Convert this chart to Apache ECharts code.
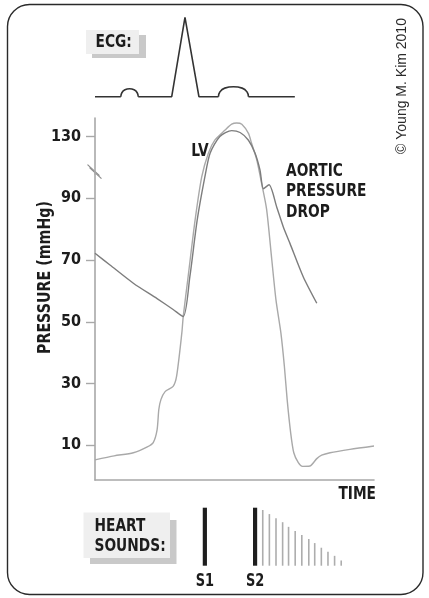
<!DOCTYPE html>
<html>
<head>
<meta charset="utf-8">
<script src="https://cdn.jsdelivr.net/npm/echarts@6/dist/echarts.min.js"></script>
<style>
html,body{margin:0;padding:0;background:#fff;}
#main{width:429px;height:598px;}
</style>
</head>
<body>
<div id="main"></div>
<script>
// ---- DATA ----
// Time axis in milliseconds across one cardiac cycle
const timeRange = [0, 800];

// ECG trace (ms, mV): baseline + QRS (null = gap where a wave is drawn)
const ecgBaseTime    = [0, 74, 99, 124, 220, 258, 298, 354, 397, 440, 573];
const ecgBaseVoltage = [0, 0, null, 0, 0, 1.0, 0, 0, null, 0, 0];
// P wave
const pWaveTime    = [74, 77, 86, 99, 112, 121, 124];
const pWaveVoltage = [0, 0.05, 0.087, 0.1, 0.087, 0.05, 0];
// T wave
const tWaveTime    = [354, 358, 372, 397, 422, 436, 440];
const tWaveVoltage = [0, 0.06, 0.108, 0.125, 0.108, 0.06, 0];

// Left ventricular pressure (ms, mmHg)
const lvTime     = [0, 55, 110, 150, 167, 178, 183, 189, 201, 224, 234, 249, 253, 267, 287, 306, 325, 344, 373, 392, 406, 421, 440, 449, 464, 478, 492, 507, 519, 533, 543, 551, 561, 570, 583, 595, 616, 636, 650, 674, 731, 800];
const lvPressure = [5.3, 6.6, 7.6, 9.5, 10.9, 15, 21.6, 24.8, 27.4, 29.1, 32.4, 46.4, 51.7, 64.6, 82.9, 96.9, 124.6, 128.9, 132.1, 134, 134.4, 134, 131, 127.8, 122.4, 94.7, 86.5, 70, 57, 46.4, 35.6, 24.8, 14.1, 7.6, 4.4, 3.2, 3.3, 5.7, 6.8, 7.6, 8.7, 9.8];

// Aortic pressure (ms, mmHg)
const aoTime     = [0, 43, 110, 178, 224, 253, 272, 293, 315, 330, 358, 392, 416, 440, 459, 473, 483, 499, 521, 540, 559, 597, 636];
const aoPressure = [72.2, 68.4, 62.5, 57.5, 54, 51.7, 64.6, 82.9, 96.9, 124.6, 130, 131.9, 131.3, 128.8, 124.6, 119.2, 93.1, 94.4, 87.2, 80.7, 75.4, 64.6, 56];

// Y axis
const yTickValues = [10, 30, 50, 70, 90, 130];
const yBreak = [98, 118];
const yRange = [-1, 136];

// Heart sounds (ms, relative amplitude)
const mainSoundTime      = [315, 459];
const mainSoundAmplitude = [100, 100];
const mainSoundLabels    = ['S1', 'S2'];
const splitTime      = [481, 500, 519, 538, 555, 574, 593, 613, 630, 649, 668, 687, 706];
const splitAmplitude = [96, 89, 82, 75, 67, 60, 53, 46, 39, 31, 24, 17, 9];

// Texts
const ecgTitle = 'ECG:';
const soundTitle = 'HEART\nSOUNDS:';
const yTitle = 'PRESSURE (mmHg)';
const xTitle = 'TIME';
const lvLabel = 'LV';
const aoLabel = 'AORTIC\nPRESSURE\nDROP';
const copyright = '\u00A9 Young M. Kim 2010';

// ---- CHART ----
const FONT = '"Liberation Sans Narrow", "Arial Narrow", "DejaVu Sans Condensed", sans-serif';
const FONT_REG = '"Liberation Sans", Arial, sans-serif';
const TXT = '#1c1c1c';
const AXIS = '#a8a8a8';
const SX = 0.85; // horizontal condensing of bold labels

const zip = (a, b) => a.map((v, i) => [v, b[i]]);

const chart = echarts.init(document.getElementById('main'), null, {renderer: 'canvas'});

const hiddenX = (gi) => ({gridIndex: gi, type: 'value', min: timeRange[0], max: timeRange[1], show: false});
const ecgLine = (name, t, v, smooth) => ({
  name: name, type: 'line', xAxisIndex: 0, yAxisIndex: 0,
  data: zip(t, v), showSymbol: false, symbol: 'none', smooth: smooth, connectNulls: false,
  lineStyle: {color: '#333', width: 1.6}, clip: false
});

const option = {
  animation: false,
  grid: [
    {left: 95, right: 55, top: 17.3, height: 79.4},
    {left: 95, right: 55, top: 118, height: 361.3},
    {left: 95, right: 55, top: 507.7, height: 58}
  ],
  xAxis: [
    hiddenX(0),
    {
      gridIndex: 1, type: 'value', min: timeRange[0], max: timeRange[1],
      axisLine: {show: true, onZero: false, lineStyle: {color: AXIS, width: 1.6}},
      axisTick: {show: false}, axisLabel: {show: false}, splitLine: {show: false}
    },
    hiddenX(2)
  ],
  yAxis: [
    {gridIndex: 0, type: 'value', min: 0, max: 1, show: false},
    {
      gridIndex: 1, type: 'value', min: yRange[0], max: yRange[1],
      breaks: [{start: yBreak[0], end: yBreak[1], gap: 0}],
      breakArea: {show: false},
      axisLine: {show: true, onZero: false, lineStyle: {color: AXIS, width: 1.6}},
      axisTick: {show: true, length: 9, customValues: yTickValues, lineStyle: {color: AXIS, width: 1.4}},
      axisLabel: {customValues: yTickValues, margin: 14, fontSize: 16, fontWeight: 'bold', fontFamily: FONT, color: TXT},
      splitLine: {show: false}
    },
    {gridIndex: 2, type: 'value', min: 0, max: 100, show: false}
  ],
  series: [
    ecgLine('ECG', ecgBaseTime, ecgBaseVoltage, false),
    ecgLine('P wave', pWaveTime, pWaveVoltage, 0.5),
    ecgLine('T wave', tWaveTime, tWaveVoltage, 0.5),
    {
      name: 'LV', type: 'line', xAxisIndex: 1, yAxisIndex: 1,
      data: zip(lvTime, lvPressure), showSymbol: false, symbol: 'none', smooth: 0.25,
      lineStyle: {color: '#a9a9a9', width: 1.4}, clip: false
    },
    {
      name: 'Aortic', type: 'line', xAxisIndex: 1, yAxisIndex: 1,
      data: zip(aoTime, aoPressure), showSymbol: false, symbol: 'none', smooth: 0.25,
      lineStyle: {color: '#7d7d7d', width: 1.4}, clip: false
    },
    {
      name: 'Split', type: 'custom', xAxisIndex: 2, yAxisIndex: 2, clip: false,
      data: zip(splitTime, splitAmplitude),
      renderItem: function (params, api) {
        const top = api.coord([api.value(0), api.value(1)]);
        const base = api.coord([api.value(0), 0]);
        const w = 1.6;
        return {type: 'rect', shape: {x: top[0] - w / 2, y: top[1], width: w, height: base[1] - top[1]}, style: {fill: '#adadad'}};
      }
    },
    {
      name: 'Sounds', type: 'custom', xAxisIndex: 2, yAxisIndex: 2, clip: false,
      data: zip(mainSoundTime, mainSoundAmplitude),
      renderItem: function (params, api) {
        const top = api.coord([api.value(0), api.value(1)]);
        const base = api.coord([api.value(0), 0]);
        const w = 4.2;
        return {
          type: 'group',
          children: [
            {type: 'rect', shape: {x: top[0] - w / 2, y: top[1], width: w, height: base[1] - top[1]}, style: {fill: '#1e1e1e'}},
            {type: 'text', x: base[0], y: base[1] + 15.5, scaleX: 0.8, style: {text: mainSoundLabels[params.dataIndex], align: 'center', verticalAlign: 'middle', font: 'bold 18px ' + FONT, fill: TXT}}
          ]
        };
      }
    }
  ]
};

chart.setOption(option);

// ---- Decorations ----
const axisX = chart.convertToPixel({xAxisIndex: 1}, timeRange[0]);
const breakY = chart.convertToPixel({yAxisIndex: 1}, yBreak[0]) - 2;

const boldText = (text, x, y, align, extra) => Object.assign({
  type: 'text', x: x, y: y, scaleX: SX,
  style: {text: text, align: align, verticalAlign: 'middle', font: 'bold 18px ' + FONT, fill: TXT}
}, extra || {});

chart.setOption({
  graphic: [
    // border
    {type: 'rect', z: 0, shape: {x: 7.5, y: 4.5, width: 415.5, height: 590, r: 22}, style: {fill: 'none', stroke: '#2a2a2a', lineWidth: 1.4}},
    // ECG box
    {type: 'rect', shape: {x: 92, y: 35, width: 54, height: 23}, style: {fill: '#c9c9c9'}},
    {type: 'rect', shape: {x: 86, y: 30, width: 53, height: 24}, style: {fill: '#efefef'}},
    boldText(ecgTitle, 95.5, 42.5, 'left'),
    // Heart sounds box
    {type: 'rect', shape: {x: 90, y: 520, width: 86.5, height: 44}, style: {fill: '#c9c9c9'}},
    {type: 'rect', shape: {x: 83.5, y: 512.5, width: 86.5, height: 45.5}, style: {fill: '#efefef'}},
    {type: 'text', x: 94.5, y: 536, scaleX: SX, style: {text: soundTitle, align: 'left', verticalAlign: 'middle', lineHeight: 20, font: 'bold 18px ' + FONT, fill: TXT}},
    // copyright
    {type: 'text', x: 402, y: 86, rotation: Math.PI / 2, style: {text: copyright, align: 'center', verticalAlign: 'middle', font: '14px ' + FONT_REG, fill: '#2a2a2a'}},
    // y title
    {type: 'text', x: 45, y: 277.5, rotation: Math.PI / 2, scaleX: 0.88, style: {text: yTitle, align: 'center', verticalAlign: 'middle', font: 'bold 18px ' + FONT, fill: TXT}},
    // x title
    boldText(xTitle, 376, 494.5, 'right'),
    // LV label
    boldText(lvLabel, 200, 151, 'center'),
    // Aortic label
    {type: 'text', x: 286, y: 191.5, scaleX: SX, style: {text: aoLabel, align: 'left', verticalAlign: 'middle', lineHeight: 20.5, font: 'bold 18px ' + FONT, fill: TXT}},
    // axis break mark
    {type: 'line', shape: {x1: axisX - 7.5, y1: breakY - 7, x2: axisX + 4.5, y2: breakY + 4}, style: {stroke: '#8c8c8c', lineWidth: 1.2}},
    {type: 'line', shape: {x1: axisX - 5.5, y1: breakY - 4, x2: axisX + 6.5, y2: breakY + 7}, style: {stroke: '#8c8c8c', lineWidth: 1.2}}
  ]
});
</script>
</body>
</html>
